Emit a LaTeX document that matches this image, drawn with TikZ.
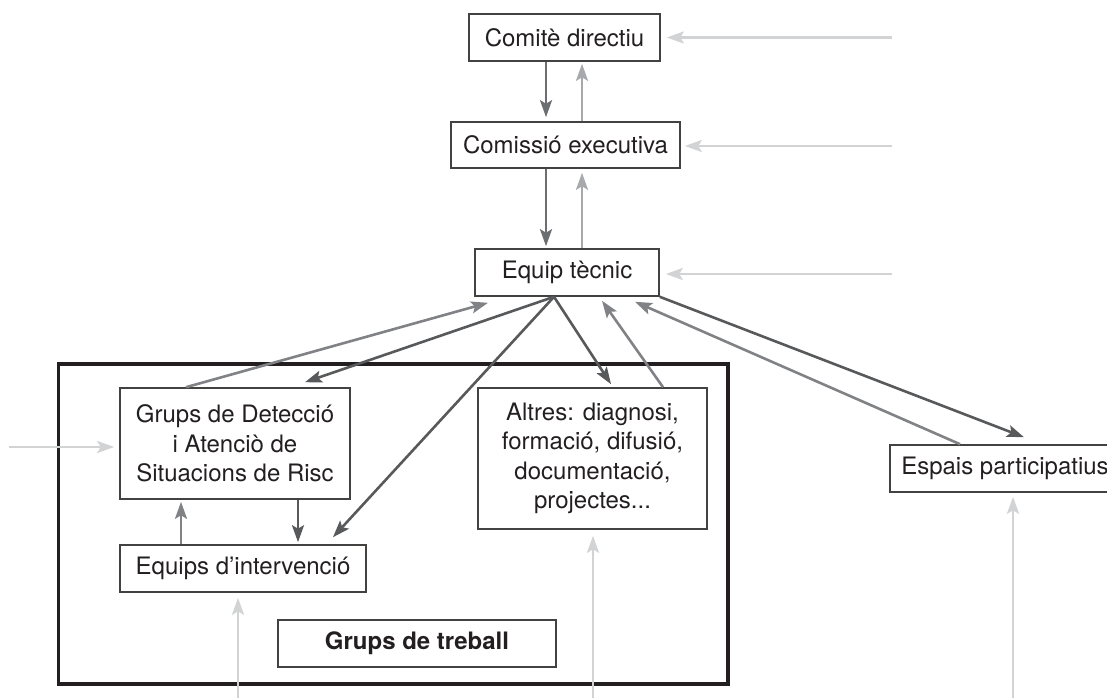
\documentclass[tikz,border=0pt]{standalone}
\usepackage{fontspec}
\setmainfont{TeX Gyre Heros}
\usepackage{tikz}
\usetikzlibrary{arrows.meta,calc,positioning}

\definecolor{textgray}{HTML}{231F20}
\definecolor{darkline}{HTML}{58595B}
\definecolor{midline}{HTML}{808285}
\definecolor{downline}{HTML}{6D6E71}
\definecolor{upline}{HTML}{A7A9AC}
\definecolor{lightline}{HTML}{D1D3D4}

\tikzset{
  box/.style={draw=textgray!85, line width=1.6pt, inner sep=0pt, align=center,
    text=textgray, font=\fontsize{24}{29.5}\selectfont},
  tip/.style={-{Stealth[length=17pt,width=12pt,inset=3.5pt]}, line width=2.6pt},
  darkarr/.style={tip, draw=darkline},
  midarr/.style={tip, draw=midline},
  downarr/.style={tip, draw=downline},
  uparr/.style={tip, draw=upline},
  lightarr/.style={tip, draw=lightline}
}

\begin{document}
\begin{tikzpicture}[x=1pt,y=-1pt]
\useasboundingbox (0,0) rectangle (1107,698);
% Grups de treball frame
\node[draw=textgray, line width=3.2pt, minimum width=669.5pt, minimum height=320pt, inner sep=0pt] (frame) at (393.25,524) {};
% Boxes
\node[box, minimum width=191pt, minimum height=47pt] (comite) at (564.5,37.5) {Comitè directiu};
\node[box, minimum width=229pt, minimum height=46pt] (comissio) at (565.5,145) {Comissió executiva};
\node[box, minimum width=184pt, minimum height=47pt] (tecnic) at (567,272.5) {Equip tècnic};
\node[box, minimum width=230pt, minimum height=111pt] (deteccio) at (235,443.5) {Grups de Detecció\\i Atenciò de\\Situacions de Risc};
\node[box, minimum width=246pt, minimum height=47pt] (intervencio) at (243,568.5) {Equips d’intervenció};
\node[box, minimum width=229pt, minimum height=141pt] (altres) at (592.5,458.5) {Altres: diagnosi,\\formació, difusió,\\documentació,\\projectes...};
\node[box, minimum width=278pt, minimum height=47pt, font=\fontsize{24}{29.5}\selectfont\bfseries] (treball) at (417,643.5) {Grups de treball};
\node[box, minimum width=230pt, minimum height=47pt] (espais) at (1005,468.5) {Espais participatius};
% Free ends of the outside arrows
\coordinate (inComite) at (892,37.5);
\coordinate (inComissio) at (892,146);
\coordinate (inTecnic) at (892,274);
\coordinate (inDeteccio) at (9,447);
\coordinate (inIntervencio) at (238,698);
\coordinate (inAltres) at (593,698);
\coordinate (inEspais) at (1013,698);
% Outside arrows
\draw[lightarr] (inComite) -- ($(comite.east)+(6,0)$);
\draw[lightarr] (inComissio) -- ($(comissio.east)+(4,1)$);
\draw[lightarr] (inTecnic) -- ($(tecnic.east)+(6,1.5)$);
\draw[lightarr] (inDeteccio) -- ($(deteccio.west)+(-5,3.5)$);
\draw[lightarr] (inIntervencio) -- ($(intervencio.south)+(-5,5)$);
\draw[lightarr] (inAltres) -- ($(altres.south)+(0.5,6)$);
\draw[lightarr] (inEspais) -- ($(espais.south)+(8,4)$);
% Top chain
\draw[downarr] ($(comite.south)+(-18.5,0)$) -- ($(comissio.north)+(-19.5,-4)$);
\draw[uparr] ($(comissio.north)+(16.5,0)$) -- ($(comite.south)+(17.5,2)$);
\draw[downarr] ($(comissio.south)+(-19.5,0)$) -- ($(tecnic.north)+(-21,-2)$);
\draw[uparr] ($(tecnic.north)+(15,0)$) -- ($(comissio.south)+(16.5,4)$);
% Equip tecnic and the groups
\draw[midarr] ($(deteccio.north)+(-49,0)$) -- ($(tecnic.south)+(-79,6)$);
\draw[darkarr] ($(tecnic.south)+(-13,0)$) -- ($(deteccio.north)+(70,-5)$);
\draw[darkarr] ($(tecnic.south)+(-13,0)$) -- ($(intervencio.north)+(90,-7)$);
\draw[darkarr] ($(tecnic.south)+(-13,0)$) -- ($(altres.north)+(18.5,-3)$);
\draw[midarr] ($(altres.north)+(70.5,0)$) -- ($(tecnic.south)+(35,4)$);
\draw[darkarr] (tecnic.south east) -- ($(espais.north)+(19,-7)$);
\draw[midarr] ($(espais.north)+(-45,0)$) -- ($(tecnic.south)+(68,5)$);
\draw[midarr] ($(intervencio.north)+(-62,0)$) -- ($(deteccio.south)+(-54,2)$);
\draw[darkarr] ($(deteccio.south)+(63,0)$) -- ($(intervencio.north)+(55,-2)$);
\end{tikzpicture}
\end{document}
